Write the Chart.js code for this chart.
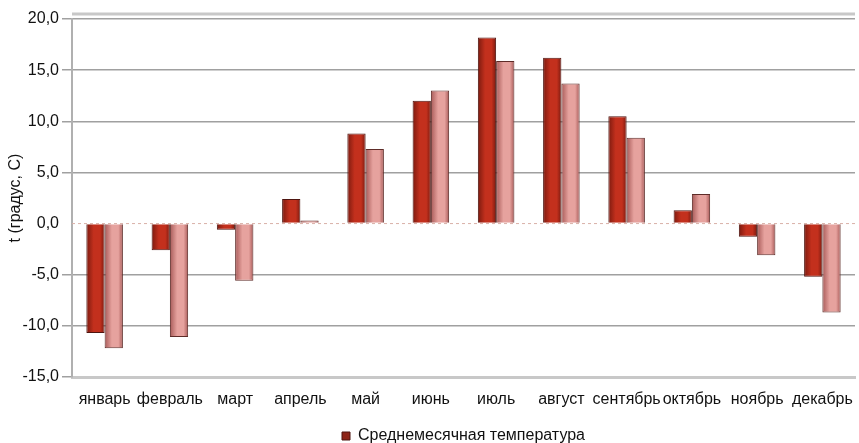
<!DOCTYPE html>
<html>
<head>
<meta charset="utf-8">
<script src="https://cdn.jsdelivr.net/npm/chart.js@4/dist/chart.umd.min.js"></script>
<style>
  html, body { margin: 0; padding: 0; background: #fff; }
  #wrap { width: 859px; height: 443px; }
</style>
</head>
<body>
<div id="wrap"><canvas id="tempChart"></canvas></div>
<script>
// months and monthly temperature values
const months = ['январь', 'февраль', 'март', 'апрель', 'май', 'июнь', 'июль', 'август', 'сентябрь', 'октябрь', 'ноябрь', 'декабрь'];
const tempMain = [-10.7, -2.6, -0.6, 2.4, 8.8, 12.0, 18.2, 16.2, 10.5, 1.3, -1.3, -5.2];
const tempSecond = [-12.2, -11.1, -5.6, 0.3, 7.3, 13.0, 15.9, 13.7, 8.4, 2.9, -3.1, -8.7];
const yTicks = [-15, -10, -5, 0, 5, 10, 15, 20];

const legendLabel = 'Среднемесячная температура';
const fontMain = { family: 'Liberation Sans', size: 16 };

// colour stops for each series: edge, middle
const shades = [
    ['#7c1a0f', '#c3301d'],
    ['#a85a58', '#e6a29e']
];

// frame line on top, dashed zero line, and glossy fill across every bar
const chartDecor = {
    id: 'chartDecor',
    beforeDatasetsDraw(chart) {
        const { ctx, chartArea } = chart;
        ctx.save();
        ctx.strokeStyle = '#c8c8c8';
        ctx.lineWidth = 3;
        ctx.beginPath();
        ctx.moveTo(chartArea.left, chartArea.top - 5);
        ctx.lineTo(chartArea.right, chartArea.top - 5);
        ctx.stroke();
        const y0 = chart.scales.y.getPixelForValue(0);
        ctx.strokeStyle = '#d9b0a8';
        ctx.lineWidth = 1;
        ctx.setLineDash([3, 3]);
        ctx.beginPath();
        ctx.moveTo(chartArea.left, y0);
        ctx.lineTo(chartArea.right, y0);
        ctx.stroke();
        ctx.restore();

        chart.data.datasets.forEach((ds, i) => {
            const [edge, mid] = shades[i];
            chart.getDatasetMeta(i).data.forEach(bar => {
                const x0 = bar.x - bar.width / 2;
                const g = ctx.createLinearGradient(x0, 0, x0 + bar.width, 0);
                g.addColorStop(0, edge);
                g.addColorStop(0.4, mid);
                g.addColorStop(0.75, mid);
                g.addColorStop(1, edge);
                bar.options.backgroundColor = g;
            });
        });
    }
};

new Chart(document.getElementById('tempChart'), {
    type: 'bar',
    data: {
        labels: months,
        datasets: [{
            label: legendLabel,
            data: tempMain,
            // scriptable so each bar keeps its own options object
            backgroundColor: () => '#a8251a',
            borderColor: '#4e1510',
            borderWidth: 1
        }, {
            label: '',
            data: tempSecond,
            backgroundColor: () => '#d98a86',
            borderColor: '#5e2c28',
            borderWidth: 1
        }]
    },
    options: {
        responsive: true,
        maintainAspectRatio: false,
        animation: false,
        layout: { padding: { top: 19, right: 4, left: 0, bottom: -11 } },
        datasets: { bar: { categoryPercentage: 0.56, barPercentage: 1.0 } },
        plugins: {
            legend: {
                position: 'bottom',
                fullSize: false,
                labels: {
                    filter: item => item.datasetIndex === 0,
                    boxWidth: 8,
                    boxHeight: 8,
                    color: '#111',
                    font: fontMain,
                    padding: 2,
                    generateLabels(chart) {
                        const items = Chart.defaults.plugins.legend.labels.generateLabels(chart);
                        items.forEach(it => {
                            it.fillStyle = '#8e2418';
                            it.strokeStyle = '#4e1510';
                        });
                        return items;
                    }
                }
            },
            tooltip: { enabled: false }
        },
        scales: {
            x: {
                grid: { display: false },
                border: { display: true, color: '#c8c8c8', width: 3 },
                ticks: {
                    color: '#111',
                    font: fontMain,
                    maxRotation: 0,
                    autoSkip: false,
                    padding: 5
                },
                afterFit(scale) { scale.height = 49; }
            },
            y: {
                min: -15,
                max: 20,
                afterBuildTicks(scale) { scale.ticks = yTicks.map(v => ({ value: v })); },
                grid: {
                    color: ctx => ctx.tick && ctx.tick.value === 0 ? 'rgba(0,0,0,0)' : '#a0a0a0',
                    lineWidth: 1.5,
                    tickLength: 10,
                    drawTicks: true
                },
                border: { display: true, color: '#b0b0b0', width: 2 },
                ticks: {
                    color: '#111',
                    font: fontMain,
                    padding: 3,
                    callback: v => v.toFixed(1).replace('.', ',')
                },
                title: {
                    display: true,
                    text: 't (градус, С)',
                    color: '#111',
                    font: fontMain,
                    padding: { top: 6, bottom: 0 }
                },
                afterFit(scale) { scale.width = 72; }
            }
        }
    },
    plugins: [chartDecor]
});
</script>
</body>
</html>
